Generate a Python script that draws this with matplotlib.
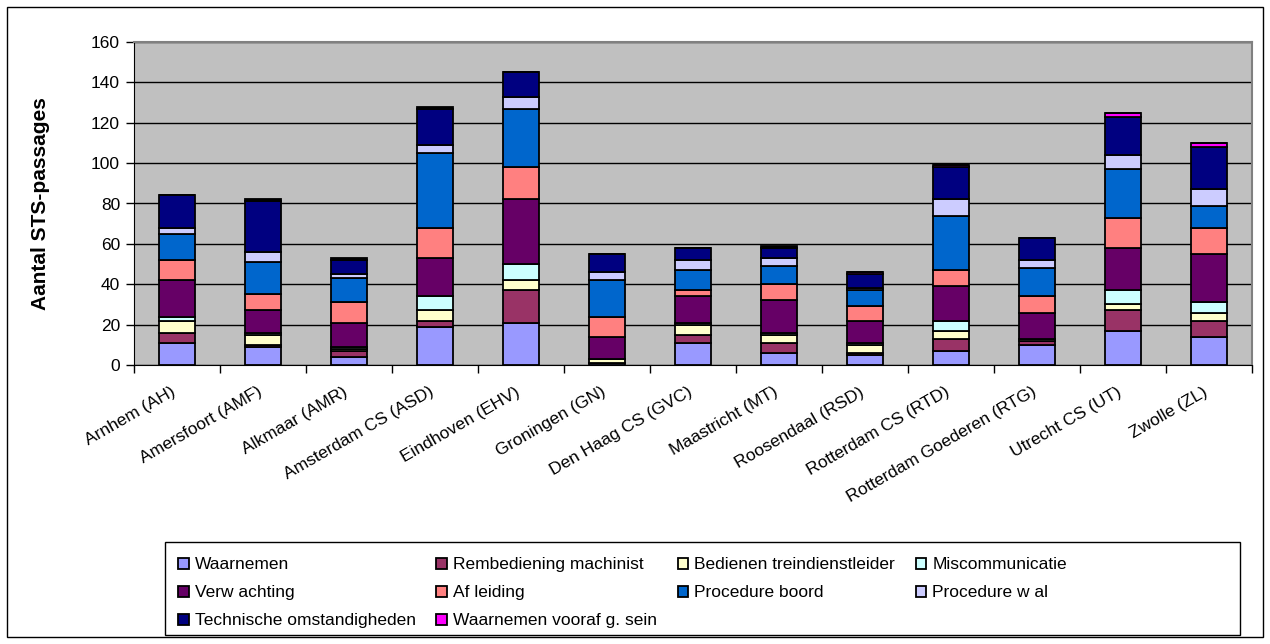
import numpy as np
import matplotlib.pyplot as plt
from matplotlib.patches import Rectangle
from matplotlib.transforms import ScaledTranslation

plt.rcParams['font.family'] = ['Liberation Sans', 'DejaVu Sans']

stations = ['Arnhem (AH)', 'Amersfoort (AMF)', 'Alkmaar (AMR)', 'Amsterdam CS (ASD)',
            'Eindhoven (EHV)', 'Groningen (GN)', 'Den Haag CS (GVC)', 'Maastricht (MT)',
            'Roosendaal (RSD)', 'Rotterdam CS (RTD)', 'Rotterdam Goederen (RTG)',
            'Utrecht CS (UT)', 'Zwolle (ZL)']

# oorzaken per station (van onder naar boven gestapeld)
waarnemen       = [11,  9,  4, 19, 21,  1, 11,  6,  5,  7, 10, 17, 14]
rembediening    = [ 5,  1,  3,  3, 16,  0,  4,  5,  1,  6,  2, 10,  8]
bedienen_tdl    = [ 6,  5,  1,  5,  5,  2,  5,  4,  4,  4,  1,  3,  4]
miscommunicatie = [ 2,  1,  1,  7,  8,  0,  1,  1,  1,  5,  0,  7,  5]
verwachting     = [18, 11, 12, 19, 32, 11, 13, 16, 11, 17, 13, 21, 24]
afleiding       = [10,  8, 10, 15, 16, 10,  3,  8,  7,  8,  8, 15, 13]
procedure_boord = [13, 16, 12, 37, 29, 18, 10,  9,  8, 27, 14, 24, 11]
procedure_wal   = [ 3,  5,  2,  4,  6,  4,  5,  4,  1,  8,  4,  7,  8]
technisch       = [16, 25,  7, 18, 12,  9,  6,  5,  7, 16, 11, 19, 21]
vooraf_sein     = [ 0,  0,  0,  0,  0,  0,  0,  0,  1,  1,  0,  2,  2]
overig          = [ 0,  1,  1,  1,  0,  0,  0,  1,  0,  0,  0,  0,  0]

series = [
    ('Waarnemen', waarnemen, '#9999FF'),
    ('Rembediening machinist', rembediening, '#993366'),
    ('Bedienen treindienstleider', bedienen_tdl, '#FFFFCC'),
    ('Miscommunicatie', miscommunicatie, '#CCFFFF'),
    ('Verw achting', verwachting, '#660066'),
    ('Af leiding', afleiding, '#FF8080'),
    ('Procedure boord', procedure_boord, '#0066CC'),
    ('Procedure w al', procedure_wal, '#CCCCFF'),
    ('Technische omstandigheden', technisch, '#000080'),
    ('Waarnemen vooraf g. sein', vooraf_sein, '#FF00FF'),
    ('_overig', overig, '#000000'),
]

W, H = 1270, 644
fig = plt.figure(figsize=(W / 100, H / 100), dpi=100)
ax = fig.add_axes([134 / W, (H - 365) / H, (1252 - 134) / W, (365 - 42) / H])

x = np.arange(len(stations))
bottom = np.zeros(len(stations))
handles = {}
for label, vals, color in series:
    vals = np.array(vals, dtype=float)
    b = ax.bar(x, vals, 0.42, bottom=bottom, color=color, edgecolor='black',
               linewidth=1.3, label=label, zorder=3)
    handles[label] = b
    bottom += vals

ax.set_xlim(-0.5, len(stations) - 0.5)
ax.set_ylim(0, 160)
ax.set_yticks(range(0, 161, 20))
ax.set_facecolor('#C0C0C0')
ax.grid(axis='y', color='black', linewidth=1, zorder=1)
for s in ['top', 'right']:
    ax.spines[s].set_color('#808080')
    ax.spines[s].set_linewidth(1.5)
for s in ['left', 'bottom']:
    ax.spines[s].set_color('black')

ax.tick_params(axis='y', labelsize=12.5, length=6, width=1, direction='out', pad=4)
ax.set_xticks(x)
ax.set_xticklabels(stations, rotation=30, ha='right', rotation_mode='anchor', fontsize=12.5)
ax.tick_params(axis='x', length=0, pad=14)
for lbl in ax.get_xticklabels():
    lbl.set_transform(lbl.get_transform() + ScaledTranslation(-0.06, 0, fig.dpi_scale_trans))
ax.set_xticks(np.arange(-0.5, len(stations), 1), minor=True)
ax.tick_params(axis='x', which='minor', length=6, width=1, direction='out')

ax.set_ylabel('Aantal STS-passages', fontsize=15, fontweight='bold')
ax.yaxis.set_label_coords((50 - 134) / 1118, 0.5)

# legenda: rijgewijs zoals in Excel
order = ['Waarnemen', 'Verw achting', 'Technische omstandigheden',
         'Rembediening machinist', 'Af leiding', 'Waarnemen vooraf g. sein',
         'Bedienen treindienstleider', 'Procedure boord',
         'Miscommunicatie', 'Procedure w al']
leg = fig.legend([handles[k] for k in order], order, ncol=4,
                 loc='upper left', bbox_to_anchor=(166 / W, 1 - 545 / H),
                 frameon=False, fontsize=12.5,
                 handlelength=0.6, handleheight=0.6, handletextpad=0.35,
                 columnspacing=1.2, labelspacing=0.75, borderpad=0.2)

fig.patches.append(Rectangle((165 / W, (H - 635) / H), (1240 - 165) / W, (635 - 542) / H,
                             transform=fig.transFigure, fill=False,
                             edgecolor='black', linewidth=1))
fig.patches.append(Rectangle((7 / W, 7 / H), (W - 14) / W, (H - 14) / H,
                             transform=fig.transFigure, fill=False,
                             edgecolor='black', linewidth=1))

fig.savefig('out.png', dpi=100, facecolor='white')
